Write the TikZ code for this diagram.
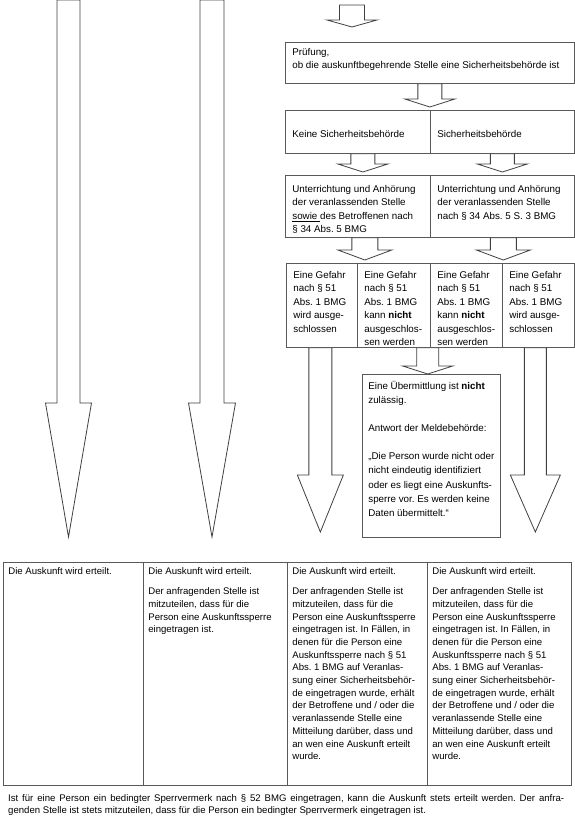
\documentclass[tikz,border=0pt]{standalone}
\usepackage{fontspec}
\setmainfont{Liberation Sans}
\usetikzlibrary{calc}
\hfuzz=30pt
\vfuzz=30pt
\hbadness=10000
\vbadness=10000
\frenchspacing
\tikzset{
  cell/.style={rectangle, draw=black!65, line width=0.7pt, inner ysep=3pt, anchor=north west,
               font=\fontsize{9.8}{13.5}\selectfont},
  mid/.style={font=\fontsize{9.8}{14.1}\selectfont},
  tab/.style={font=\fontsize{9.6}{12.7}\selectfont},
  blk/.style={draw=black!75, line width=0.8pt, fill=white, line join=miter},
  foot/.style={anchor=base west, inner sep=0pt, font=\fontsize{9.6}{12.5}\selectfont}
}
\def\cx{7}
% [style] name x y w h first-baseline-offset text
\newcommand\cellnode[8][]{%
  \node[cell,#1,inner xsep=\cx pt] (#2) at (#3,#4)
    {\parbox[t][\dimexpr#6pt-6pt\relax][t]{\dimexpr#5pt-\cx pt-\cx pt\relax}%
      {\frenchspacing\rule{0pt}{\dimexpr#7pt-3pt\relax}#8}};}
% start, tip, shaft half width, head half width, head length
\newcommand\blockarrow[5]{%
  \draw[blk] let \p1=#1, \p2=#2 in
    (\x1-#3,\y1) -- (\x1-#3,\y2+#5) -- (\x1-#4,\y2+#5) -- (\x1,\y2)
    -- (\x1+#4,\y2+#5) -- (\x1+#3,\y2+#5) -- (\x1+#3,\y1) -- cycle;}
\begin{document}
\begin{tikzpicture}[x=1pt,y=-1pt]
\useasboundingbox (0,0) rectangle (575,827);

% flow boxes
\def\cx{7}
\cellnode{b1}{285}{42}{289}{41}{13}{Prüfung,\\ob die auskunftbegehrende Stelle eine Sicherheitsbehörde ist}
\cellnode{b2l}{285}{110}{145}{43}{27}{Keine Sicherheitsbehörde}
\cellnode{b2r}{430}{110}{144}{43}{27}{Sicherheitsbehörde}
\cellnode{b3l}{285}{175}{145}{62}{17}{Unterrichtung und Anhörung\\der veranlassenden Stelle\\\underline{sowie\ }des Betroffenen nach\\§ 34 Abs. 5 BMG}
\cellnode{b3r}{430}{175}{144}{62}{17}{Unterrichtung und Anhörung\\der veranlassenden Stelle\\nach § 34 Abs. 5 S. 3 BMG}
\cellnode{c1}{286}{263}{71}{84}{15}{Eine Gefahr\\nach § 51\\Abs. 1 BMG\\wird ausge-\\schlossen}
\cellnode{c2}{357}{263}{73}{84}{15}{Eine Gefahr\\nach § 51\\Abs. 1 BMG\\kann \textbf{nicht}\\ausgeschlos-\\sen werden}
\cellnode{c3}{430}{263}{72}{84}{15}{Eine Gefahr\\nach § 51\\Abs. 1 BMG\\kann \textbf{nicht}\\ausgeschlos-\\sen werden}
\cellnode{c4}{502}{263}{72}{84}{15}{Eine Gefahr\\nach § 51\\Abs. 1 BMG\\wird ausge-\\schlossen}

\def\cx{6}
\cellnode[mid]{m}{362}{374}{138}{163}{15}{Eine Übermittlung ist \textbf{nicht}\\zulässig.\par\vspace{\baselineskip}Antwort der Meldebehörde:\par\vspace{\baselineskip}„Die Person wurde nicht oder\\nicht eindeutig identifiziert\\oder es liegt eine Auskunfts-\\sperre vor. Es werden keine\\Daten übermittelt.“}

% result table
\def\cx{5}
\cellnode[tab]{t1}{3}{562}{140}{223}{12.3}{Die Auskunft wird erteilt.}
\cellnode[tab]{t2}{143}{562}{144}{223}{12.3}{Die Auskunft wird erteilt.\par\vspace{7.3pt}Der anfragenden Stelle ist\\mitzuteilen, dass für die\\Person eine Auskunftssperre\\eingetragen ist.}
\cellnode[tab]{t3}{287}{562}{140}{223}{12.3}{Die Auskunft wird erteilt.\par\vspace{7.3pt}Der anfragenden Stelle ist\\mitzuteilen, dass für die\\Person eine Auskunftssperre\\eingetragen ist. In Fällen, in\\denen für die Person eine\\Auskunftssperre nach § 51\\Abs. 1 BMG auf Veranlas-\\sung einer Sicherheitsbehör-\\de eingetragen wurde, erhält\\der Betroffene und / oder die\\veranlassende Stelle eine\\Mitteilung darüber, dass und\\an wen eine Auskunft erteilt\\wurde.}
\cellnode[tab]{t4}{427}{562}{144}{223}{12.3}{Die Auskunft wird erteilt.\par\vspace{7.3pt}Der anfragenden Stelle ist\\mitzuteilen, dass für die\\Person eine Auskunftssperre\\eingetragen ist. In Fällen, in\\denen für die Person eine\\Auskunftssperre nach § 51\\Abs. 1 BMG auf Veranlas-\\sung einer Sicherheitsbehör-\\de eingetragen wurde, erhält\\der Betroffene und / oder die\\veranlassende Stelle eine\\Mitteilung darüber, dass und\\an wen eine Auskunft erteilt\\wurde.}

% block arrows
\coordinate (a0s) at (352,5);
\coordinate (a0t) at (352,27);
\coordinate (f1s) at (68.5,0);
\coordinate (f2s) at (212,0);
\blockarrow{(a0s)}{(a0t)}{12.5pt}{25pt}{7pt}
\blockarrow{(b1.south)}{($(b2l.north)+(0,-3)$)}{12pt}{25pt}{8pt}
\blockarrow{($(b2l.south)+(5,0)$)}{($(b3l.north)+(0,-3)$)}{12pt}{25pt}{8pt}
\blockarrow{(b2r.south)}{($(b3r.north)+(0,-3)$)}{12pt}{25pt}{8pt}
\blockarrow{($(b3l.south)+(7,0)$)}{($(c1.north)+(0,-3)$)}{13pt}{27pt}{10pt}
\blockarrow{($(b3r.south)+(1,0)$)}{($(c4.north)+(0,-3)$)}{13pt}{27pt}{10pt}
\blockarrow{($(c1.south)+(-1.5,0)$)}{($(t3.north)+(0,-30)$)}{11.5pt}{23pt}{57pt}
\blockarrow{($(c2.south east)+(-3,0)$)}{(m.north)}{11pt}{25pt}{8pt}
\blockarrow{($(c4.south)+(-3,0)$)}{($(t4.north)+(0,-30)$)}{11pt}{25pt}{57pt}
\blockarrow{(f1s)}{($(t1.north)+(0,-25)$)}{11.5pt}{23pt}{134pt}
\blockarrow{(f2s)}{($(t2.north)+(0,-25)$)}{12pt}{23.5pt}{134pt}

% footnote
\node[foot] (note) at (8,801) {\parbox[t]{556pt}{\frenchspacing\tolerance=10000 Ist für eine Person ein bedingter Sperrvermerk nach § 52 BMG eingetragen, kann die Auskunft stets erteilt werden. Der anfra-\linebreak genden Stelle ist stets mitzuteilen, dass für die Person ein bedingter Sperrvermerk eingetragen ist.}};
\end{tikzpicture}
\end{document}
